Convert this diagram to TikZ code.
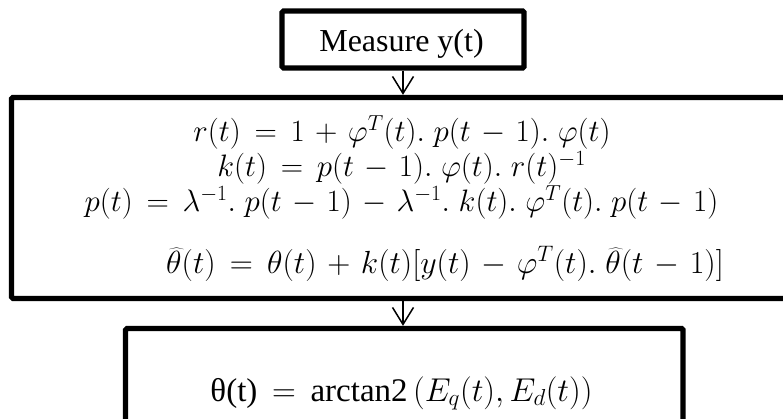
\RequirePackage{fix-cm}
\documentclass[tikz,border=0pt]{standalone}
\usepackage{fontspec}
\newfontfamily\timesfont{Liberation Serif}
\usetikzlibrary{arrows.meta}
\newcommand{\dtp}{\mathpunct{.}\mkern2mu}
\newcommand{\eqspacing}{\thickmuskip=8mu plus 2mu\relax\medmuskip=6mu plus 2mu\relax}
\begin{document}
\begin{tikzpicture}[x=1pt,y=-1pt,
  box/.style={draw, line width=5.3pt, inner sep=0pt, rounded corners=1.5pt},
  eq/.style={anchor=base, inner sep=0pt, font=\fontsize{31}{34}\selectfont\eqspacing},
  lbl/.style={anchor=base, inner sep=0pt, font=\timesfont\fontsize{32}{36}\selectfont},
  flow/.style={line width=1.5pt, -{Straight Barb[length=17pt,width=21pt,line width=1.5pt]}}
]
\useasboundingbox (0,0) rectangle (783,419);
% boxes
\node[box, minimum width=242pt, minimum height=57pt] (meas) at (403,39.5) {};
\node[box, minimum width=790pt, minimum height=201pt] (rls) at (406.5,198) {};
\node[box, minimum width=557.5pt, minimum height=160pt] (ang) at (404.25,408.5) {};
% texts
\node[lbl] (meastxt) at (401.5,52) {Measure y(t)};
\node[eq] (eqr) at (402,142) {$r(t)=1+\varphi^T(t)\dtp p(t-1)\dtp\varphi(t)$};
\node[eq] (eqk) at (401.5,177) {$k(t)=p(t-1)\dtp\varphi(t)\dtp r(t)^{-1}$};
\node[eq] (eqp) at (401.5,212) {$p(t)=\lambda^{-1}\dtp p(t-1)-\lambda^{-1}\dtp k(t)\dtp\varphi^T(t)\dtp p(t-1)$};
\node[eq, font=\fontsize{32}{34}\selectfont\eqspacing] (eqth) at (445,273) {$\widehat{\theta}(t)=\theta(t)+k(t)[y(t)-\varphi^T(t)\dtp\widehat{\theta}(t-1)]$};
\node[eq, font=\fontsize{33}{36}\selectfont\eqspacing] (eqang) at (401.5,401) {$\mbox{\timesfont θ(t)}=\mbox{\timesfont arctan2}\,\Bigl(E_q(t),E_d(t)\Bigr)$};
% connectors
\draw[flow] (meas.south) -- (meas.south |- rls.north);
\draw[flow] (meas.south |- rls.south) -- (meas.south |- ang.north);
\end{tikzpicture}
\end{document}
